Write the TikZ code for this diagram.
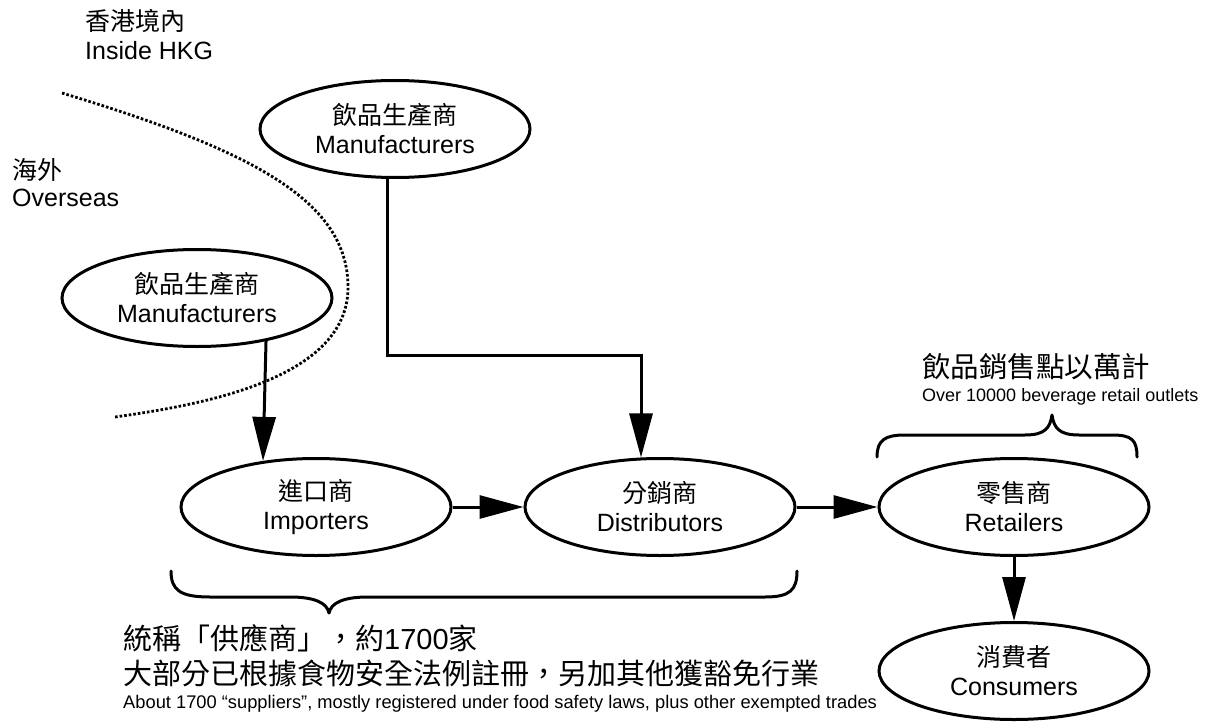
\documentclass[tikz,border=0pt]{standalone}
\usepackage{fontspec}
\setmainfont{Liberation Sans}
\newfontfamily\cjk{Noto Sans CJK TC}
\usetikzlibrary{shapes.geometric,arrows.meta}

\begin{document}
\begin{tikzpicture}[x=1pt,y=-1pt,
  party/.style={ellipse, draw, line width=3pt, minimum width=270pt,
    minimum height=97pt, inner sep=0pt, align=center,
    font=\fontsize{25}{29}\selectfont},
  flow/.style={line width=3pt, -{Triangle[length=44pt,width=23pt]}},
  bracket/.style={line width=3pt, line cap=round, line join=round},
  regionline/.style={line width=2.8pt, dash pattern=on 2.6pt off 2pt},
  txt/.style={inner sep=0pt, anchor=base west, font=\fontsize{25}{29}\selectfont}
]
\useasboundingbox (0,0) rectangle (1209,722);

% region labels
\node[txt] (hk) at (85,31) {\cjk 香港境內};
\node[txt] (hken) at (85,60) {Inside HKG};
\node[txt] (os) at (12,180) {\cjk 海外};
\node[txt] (osen) at (12,207) {Overseas};

% boundary between overseas and local
\draw[regionline] (62,93) .. controls (250,150) and (350,200) .. (348,290)
  .. controls (345,380) and (200,405) .. (115,417);

% trade parties
\node[party] (mft) at (395,129) {{\cjk 飲品生產商}\\Manufacturers};
\node[party] (mfl) at (197,298) {{\cjk 飲品生產商}\\Manufacturers};
\node[party] (imp) at (316,507) {{\cjk 進口商}\\Importers};
\node[party] (dis) at (660,507) {{\cjk 分銷商}\\Distributors};
\node[party] (ret) at (1014,507) {{\cjk 零售商}\\Retailers};
\node[party] (con) at (1014,671) {{\cjk 消費者}\\Consumers};

% goods flow
\coordinate (bend) at (500,355);
\draw[flow] (mfl.-32.7) -- (imp.139.9);
\draw[flow] (mft.-99.4) |- (bend) -| (dis.111.6);
\draw[flow] (imp.east) -- (dis.west);
\draw[flow] (dis.east) -- (ret.west);
\draw[flow] (ret.south) -- (con.north);

% retail outlets brace and note
\draw[bracket] (877,457) .. controls (877,440) and (885,435) .. (905,435)
  -- (1025,435) .. controls (1045,435) and (1050,428) .. (1052,415)
  .. controls (1054,428) and (1059,435) .. (1079,435)
  -- (1112,435) .. controls (1132,435) and (1137,440) .. (1137,457);
\node[txt, font=\fontsize{28.5}{30}\selectfont] (rt) at (922,377) {\cjk 飲品銷售點以萬計};
\node[txt, font=\fontsize{18}{20}\selectfont] (rten) at (922,401) {Over 10000 beverage retail outlets};

% suppliers brace and note
\draw[bracket] (171,571) .. controls (171,590) and (180,597) .. (210,597)
  -- (290,597) .. controls (315,597) and (327,603) .. (329,613)
  .. controls (331,603) and (343,597) .. (368,597)
  -- (765,597) .. controls (790,597) and (797,590) .. (797,571);
\node[txt, font=\fontsize{29}{30}\selectfont] (sp1) at (123,649) {{\cjk 統稱「供應商」，約}1700{\cjk 家}};
\node[txt, font=\fontsize{29}{30}\selectfont] (sp2) at (123,684) {\cjk 大部分已根據食物安全法例註冊，另加其他獲豁免行業};
\node[txt, font=\fontsize{18.3}{20}\selectfont] (sp3) at (123,708) {About 1700 “suppliers”, mostly registered under food safety laws, plus other exempted trades};
\end{tikzpicture}
\end{document}
